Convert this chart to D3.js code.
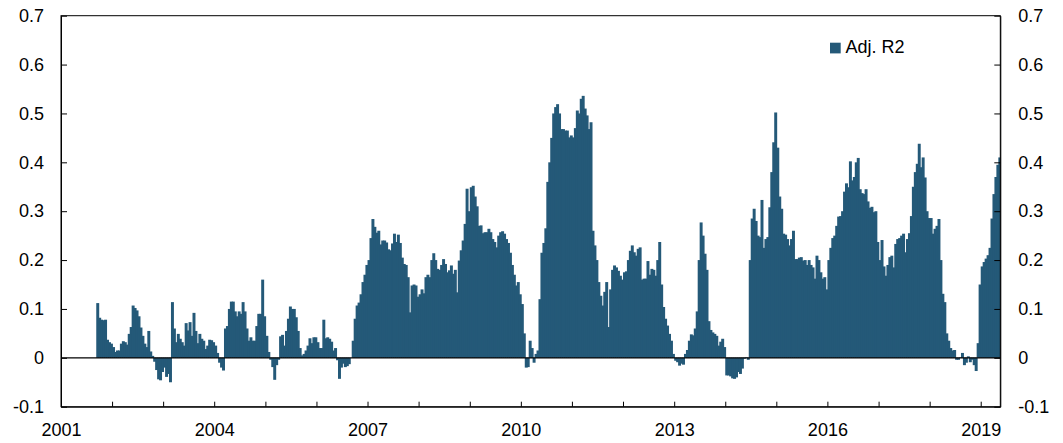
<!DOCTYPE html>
<html><head><meta charset="utf-8">
<script src="https://cdn.jsdelivr.net/npm/d3@7"></script>
<style>body{margin:0;background:#fff}svg{display:block}text{font-family:"Liberation Sans",Arial,sans-serif}</style>
</head><body><div id="chart"></div>
<script>
// Biweekly Adj. R2 values, one array per year (slot i = Jan 1 + 14*i days)
const vals2001 = [null,null,null,null,null,null,null,null,null,null,null,null,null,null,null,null,null,null,0.112,0.082,0.078,0.077,0.078,0.037,0.032,0.029];
const vals2002 = [0.022,0.012,0.015,0.015,0.029,0.034,0.032,0.027,0.049,0.063,0.107,0.102,0.097,0.085,0.062,0.045,0.029,0.022,0.055,0.013,0.004,-0.008,-0.025,-0.044,-0.046,-0.029];
const vals2003 = [-0.02,-0.039,-0.033,-0.05,0.114,0.06,0.032,0.049,0.039,0.032,0.025,0.071,0.056,0.073,0.045,0.092,0.055,0.03,0.049,0.039,0.035,0.018,0.025,0.037,0.036,0.032];
const vals2004 = [0.025,0.01,-0.01,-0.02,-0.026,0.06,0.065,0.1,0.115,0.115,0.095,0.085,0.095,0.09,0.114,0.095,0.06,0.035,0.042,0.035,0.035,0.065,0.09,0.09,0.16,0.085];
const vals2005 = [0.045,0.012,-0.004,-0.019,-0.045,-0.015,-0.004,0.044,0.047,0.025,0.055,0.08,0.105,0.1,0.1,0.083,0.055,0.02,0.005,0.008,0.015,0.025,0.04,0.03,0.042,0.042];
const vals2006 = [0.032,0.02,0.02,0.078,0.04,0.042,0.039,0.033,0.015,0.02,-0.005,-0.043,-0.02,-0.012,-0.019,-0.017,-0.013,0.0,0.035,0.08,0.107,0.113,0.13,0.155,0.17,0.19];
const vals2007 = [0.2,0.245,0.284,0.268,0.256,0.26,0.232,0.24,0.24,0.236,0.222,0.22,0.234,0.254,0.237,0.252,0.235,0.205,0.192,0.19,0.165,0.093,0.148,0.15,0.148,0.125];
const vals2008 = [0.13,0.14,0.132,0.165,0.17,0.165,0.2,0.214,0.2,0.182,0.18,0.19,0.202,0.192,0.175,0.179,0.189,0.172,0.18,0.134,0.199,0.22,0.24,0.274,0.346,0.3];
const vals2009 = [0.349,0.352,0.33,0.31,0.27,0.271,0.255,0.257,0.257,0.264,0.257,0.243,0.237,0.226,0.25,0.257,0.259,0.254,0.243,0.235,0.215,0.19,0.17,0.148,0.155,0.13];
const vals2010 = [0.11,0.05,-0.02,-0.019,0.035,0.02,-0.01,0.008,0.015,0.12,0.215,0.235,0.265,0.36,0.4,0.45,0.5,0.513,0.519,0.5,0.468,0.468,0.465,0.465,0.451,0.455];
const vals2011 = [0.451,0.47,0.506,0.5,0.53,0.536,0.51,0.496,0.468,0.482,0.26,0.23,0.2,0.155,0.127,0.107,0.135,0.155,0.063,0.14,0.18,0.189,0.185,0.178,0.168,0.16];
const vals2012 = [0.175,0.177,0.2,0.219,0.23,0.216,0.209,0.223,0.226,0.16,0.162,0.162,0.198,0.17,0.182,0.18,0.168,0.2,0.237,0.15,0.104,0.08,0.066,0.049,0.035,0.008];
const vals2013 = [-0.006,-0.009,-0.016,-0.012,-0.014,0.008,0.016,0.035,0.048,0.046,0.06,0.095,0.2,0.277,0.25,0.213,0.18,0.075,0.057,0.052,0.049,0.045,0.025,0.033,0.039,0.022];
const vals2014 = [-0.036,-0.036,-0.038,-0.042,-0.043,-0.04,-0.029,-0.033,-0.022,-0.002,0.001,-0.004,0.2,0.285,0.305,0.28,0.25,0.247,0.323,0.225,0.243,0.247,0.308,0.38,0.441,0.502];
const vals2015 = [0.43,0.33,0.305,0.254,0.252,0.243,0.23,0.243,0.26,0.202,0.202,0.205,0.206,0.199,0.2,0.19,0.2,0.19,0.185,0.162,0.209,0.2,0.175,0.162,0.165,0.14];
const vals2016 = [0.2,0.225,0.245,0.25,0.27,0.289,0.29,0.3,0.34,0.357,0.349,0.402,0.363,0.37,0.4,0.409,0.345,0.337,0.335,0.345,0.32,0.307,0.309,0.298,0.3,0.237];
const vals2017 = [0.2,0.241,0.187,0.168,0.19,0.206,0.209,0.185,0.233,0.243,0.245,0.25,0.254,0.216,0.243,0.255,0.29,0.35,0.38,0.397,0.438,0.39,0.41,0.369,0.3,0.286];
const vals2018 = [0.286,0.254,0.264,0.27,0.284,0.2,0.131,0.114,0.05,0.035,0.02,0.015,0.016,-0.004,-0.004,0.001,0.01,-0.015,-0.01,0.003,-0.009,-0.004,-0.015,-0.027,0.03,0.15];
const vals2019 = [0.187,0.196,0.203,0.21,0.225,0.285,0.335,0.37,0.395,0.41];

const years = [2001,2002,2003,2004,2005,2006,2007,2008,2009,2010,2011,2012,2013,2014,2015,2016,2017,2018,2019];
const yearValues = [vals2001,vals2002,vals2003,vals2004,vals2005,vals2006,vals2007,vals2008,vals2009,vals2010,vals2011,vals2012,vals2013,vals2014,vals2015,vals2016,vals2017,vals2018,vals2019];
const yTicks = [-0.1,0,0.1,0.2,0.3,0.4,0.5,0.6,0.7];
const yTickLabels = ["-0.1","0","0.1","0.2","0.3","0.4","0.5","0.6","0.7"];
const xLabelYears = [2001,2004,2007,2010,2013,2016,2019];
const seriesName = "Adj. R2";
const stepDays = 14;

const W = 1063, H = 443;
const L = 61, R = 1000.3, T = 15.7, B = 406.7;
const color = "#245978";
const DAY = 86400000;

const data = [];
years.forEach((yr, k) => {
  yearValues[k].forEach((v, i) => {
    if (v === null) return;
    const d0 = new Date(Date.UTC(yr, 0, 1) + i * stepDays * DAY);
    const d1 = new Date(d0.getTime() + stepDays * DAY);
    data.push({d0, d1, v});
  });
});

const x = d3.scaleUtc().domain([new Date(Date.UTC(2001,0,1)), new Date(Date.UTC(2019,4,21))]).range([L, R]);
const y = d3.scaleLinear().domain([-0.1, 0.7]).range([B, T]);

const svg = d3.select("#chart").append("svg").attr("width", W).attr("height", H);

svg.append("defs").append("clipPath").attr("id","clip")
  .append("rect").attr("x", L).attr("y", T).attr("width", R - L).attr("height", B - T);

svg.append("g").attr("clip-path","url(#clip)")
  .selectAll("rect").data(data).join("rect")
  .attr("x", d => x(d.d0))
  .attr("width", d => x(d.d1) - x(d.d0) + 1)
  .attr("y", d => y(Math.max(0, d.v)))
  .attr("height", d => Math.abs(y(d.v) - y(0)))
  .attr("fill", color);

// zero line
svg.append("line").attr("x1", L).attr("x2", R).attr("y1", y(0)).attr("y2", y(0))
  .attr("stroke", "#000").attr("stroke-width", 1.2);

function styleAxis(g) {
  g.selectAll("path.domain").attr("stroke", "#000");
  g.selectAll(".tick line").attr("stroke", "#000");
  g.selectAll("text").attr("font-size", 18).attr("fill", "#000")
    .attr("font-family", '"Liberation Sans", Arial, sans-serif');
}

svg.append("g").attr("transform", `translate(${L},0)`)
  .call(d3.axisLeft(y).tickValues(yTicks).tickFormat((d, i) => yTickLabels[i]).tickSize(-6).tickSizeOuter(0).tickPadding(17))
  .call(styleAxis);

svg.append("g").attr("transform", `translate(${R},0)`)
  .call(d3.axisRight(y).tickValues(yTicks).tickFormat((d, i) => yTickLabels[i]).tickSize(-6).tickSizeOuter(0).tickPadding(18))
  .call(styleAxis);

const yearTicks = d3.range(2001, 2020).map(yr => new Date(Date.UTC(yr, 0, 1)));
svg.append("g").attr("transform", `translate(0,${B})`)
  .call(d3.axisBottom(x).tickValues(yearTicks)
    .tickFormat(d => xLabelYears.includes(d.getUTCFullYear()) ? String(d.getUTCFullYear()) : "")
    .tickSize(-5).tickSizeOuter(0).tickPadding(17))
  .call(styleAxis);

// frame
svg.append("rect").attr("x", L).attr("y", T).attr("width", R - L).attr("height", B - T)
  .attr("fill", "none").attr("stroke", "#000").attr("stroke-width", 1);

// legend
svg.append("rect").attr("x", 830).attr("y", 42.7).attr("width", 10.7).attr("height", 10.7).attr("fill", color);
svg.append("text").attr("x", 845.5).attr("y", 53.3).attr("font-size", 18).attr("fill", "#000").text(seriesName);
</script>
</body></html>
